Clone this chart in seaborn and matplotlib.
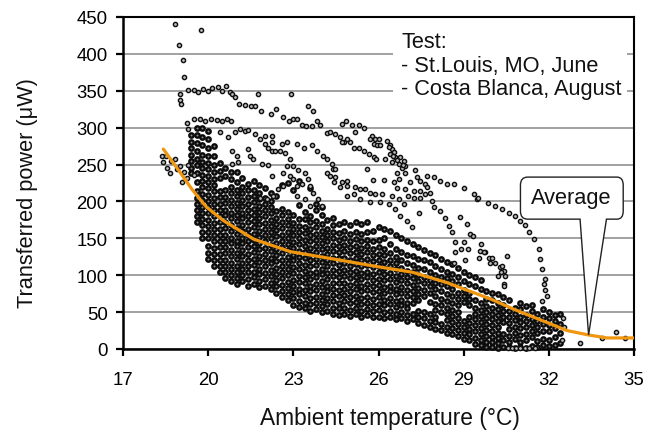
import matplotlib
matplotlib.use("Agg")
import matplotlib.pyplot as plt
from matplotlib.patches import PathPatch
from matplotlib.path import Path
import seaborn as sns
import pandas as pd

# valores, por coluna de temperatura
coluna_x = [19.4, 19.6, 19.8, 20.0, 20.2, 20.4, 20.6, 20.8, 21.0, 21.2, 21.4, 21.6, 21.8, 22.0, 22.2, 22.4, 22.6, 22.8,
            23.0, 23.2, 23.4, 23.6, 23.8, 24.0, 24.2, 24.4, 24.6, 24.8, 25.0, 25.2, 25.4, 25.6, 25.8, 26.0, 26.2,
            26.4, 26.6, 26.8, 27.0, 27.2, 27.4, 27.6, 27.8, 28.0, 28.2, 28.4, 28.6, 28.8, 29.0, 29.2, 29.4, 29.6,
            29.8, 30.0, 30.2, 30.4, 30.6, 30.8, 31.0, 31.2, 31.4, 31.6, 31.8, 32.0, 32.2, 32.4]
coluna_y = [
    [238, 246, 255, 263, 272, 281, 290],
    [172, 180, 188, 196, 205, 214, 226, 238, 249, 258, 268, 279, 290, 300],
    [150, 159, 168, 176, 185, 193, 202, 210, 219, 228, 236, 245, 254, 263, 276, 288, 300],
    [122, 130, 140, 150, 158, 167, 175, 184, 192, 201, 209, 218, 226, 235, 244, 252, 262, 272, 284, 296],
    [112, 120, 129, 137, 146, 154, 163, 171, 180, 188, 197, 205, 214, 222, 231, 240, 250, 262, 275],
    [104, 112, 121, 129, 138, 146, 155, 163, 172, 180, 189, 197, 206, 214, 232, 241, 252],
    [96, 104, 113, 121, 130, 138, 147, 155, 164, 172, 181, 189, 198, 206, 215, 234, 246],
    [92, 100, 109, 117, 126, 134, 143, 151, 160, 168, 177, 185, 194, 202, 211, 220, 230, 240],
    [88, 96, 105, 113, 122, 130, 139, 147, 156, 164, 173, 181, 190, 198, 207, 216, 226, 240],
    [92, 100, 109, 117, 126, 134, 143, 151, 160, 168, 177, 185, 194, 202, 211, 220, 232],
    [86, 95, 104, 112, 121, 129, 138, 146, 155, 163, 172, 180, 189, 197, 206, 215, 224],
    [88, 97, 105, 114, 122, 131, 139, 148, 156, 165, 173, 182, 190, 199, 207, 216, 228],
    [84, 92, 101, 109, 118, 126, 135, 143, 152, 160, 169, 177, 186, 194, 203, 212, 222],
    [86, 95, 103, 112, 120, 129, 137, 146, 154, 163, 171, 180, 188, 197, 205, 218],
    [82, 90, 99, 107, 116, 124, 133, 141, 150, 158, 167, 175, 184, 192, 201, 212],
    [76, 85, 93, 102, 110, 119, 127, 136, 144, 153, 161, 170, 178, 187, 208],
    [70, 79, 87, 96, 104, 113, 121, 130, 138, 147, 155, 164, 172, 181, 190, 222],
    [66, 74, 83, 91, 100, 108, 117, 125, 134, 142, 151, 159, 168, 176, 186, 225],
    [60, 69, 77, 86, 94, 103, 111, 120, 128, 137, 145, 154, 162, 171, 182, 215],
    [57, 65, 74, 82, 91, 99, 108, 116, 125, 133, 142, 150, 159, 167, 176, 195, 228],
    [55, 63, 72, 80, 89, 97, 106, 114, 123, 131, 140, 148, 157, 166, 176, 186],
    [52, 61, 69, 78, 86, 95, 103, 112, 120, 129, 137, 146, 154, 163, 172, 180, 218],
    [54, 63, 71, 80, 88, 97, 105, 114, 122, 131, 139, 148, 156, 165, 174, 188, 196],
    [50, 58, 67, 75, 84, 92, 101, 109, 118, 126, 135, 143, 152, 160, 170, 182, 192],
    [52, 61, 69, 78, 86, 95, 103, 112, 120, 129, 137, 146, 154, 163, 175],
    [48, 56, 65, 73, 82, 90, 99, 107, 116, 124, 133, 141, 150, 158, 168, 178],
    [46, 55, 63, 72, 80, 89, 97, 106, 114, 123, 131, 140, 148, 157, 170],
    [48, 56, 65, 73, 82, 90, 99, 107, 116, 124, 133, 141, 150, 160, 172],
    [45, 53, 62, 70, 79, 87, 96, 104, 113, 121, 130, 138, 147, 156, 168],
    [47, 55, 64, 72, 81, 89, 98, 106, 115, 123, 132, 140, 149, 158, 172],
    [44, 52, 61, 69, 78, 86, 95, 103, 112, 120, 129, 137, 146, 156, 170],
    [46, 54, 63, 71, 80, 88, 97, 105, 114, 122, 131, 139, 148, 158, 172],
    [43, 51, 60, 68, 77, 85, 94, 102, 111, 119, 128, 136, 146, 160],
    [44, 53, 61, 70, 78, 87, 95, 104, 112, 121, 129, 138, 148, 165],
    [42, 50, 59, 67, 76, 84, 93, 101, 110, 118, 127, 136, 150, 162],
    [44, 52, 61, 69, 78, 86, 95, 103, 112, 120, 130, 142, 160],
    [40, 48, 57, 65, 74, 82, 91, 99, 108, 116, 125, 136, 155],
    [42, 50, 59, 67, 76, 84, 93, 101, 110, 120, 132, 150],
    [38, 46, 55, 63, 72, 80, 89, 97, 106, 116, 128, 146],
    [40, 48, 62, 70, 79, 87, 96, 104, 114, 126, 142],
    [35, 43, 52, 66, 75, 83, 92, 100, 110, 122, 138],
    [33, 42, 50, 72, 80, 89, 97, 108, 120, 134],
    [30, 38, 47, 64, 76, 85, 93, 104, 118, 130],
    [27, 36, 44, 53, 61, 72, 81, 90, 100, 112, 128],
    [26, 34, 50, 59, 68, 78, 88, 98, 108, 122],
    [22, 30, 39, 47, 56, 65, 75, 85, 96, 104, 118],
    [20, 28, 36, 45, 53, 62, 72, 82, 92, 102, 115],
    [18, 26, 34, 42, 50, 59, 68, 76, 88, 98, 110],
    [14, 22, 30, 38, 64, 72, 80, 92, 104],
    [12, 20, 27, 35, 44, 60, 68, 76, 88, 100],
    [7, 15, 24, 32, 40, 48, 56, 66, 86, 98],
    [5, 12, 20, 28, 36, 45, 53, 62, 82, 94],
    [3, 10, 18, 26, 34, 42, 50, 58, 68, 78],
    [3, 9, 16, 24, 32, 40, 48, 56, 66, 76],
    [2, 8, 15, 22, 30, 38, 46, 54, 62, 74],
    [3, 12, 20, 36, 44, 52, 60, 70],
    [3, 10, 18, 27, 35, 43, 52, 66],
    [2, 14, 22, 30, 39, 47, 56],
    [3, 10, 19, 28, 36, 44, 54, 63],
    [2, 12, 20, 30, 38, 46, 58],
    [4, 16, 24, 33, 41, 52, 60],
    [3, 11, 22, 30, 38, 48],
    [5, 14, 25, 34, 44, 54],
    [4, 12, 24, 32, 42, 50],
    [6, 16, 28, 38, 46],
    [8, 22, 34, 48],
]

# pontos isolados, arcos e faixas superiores
solto_x = [18.36, 18.42, 18.5, 18.55, 18.66, 18.7, 18.83, 18.9, 19.0, 19.07, 19.15, 19.25, 19.3, 19.5,
           18.83, 19.73, 18.97, 19.13, 19.16, 19.0, 19.02, 19.05, 19.29, 19.5, 19.65, 19.83, 20.0, 20.13, 20.36, 20.5,
           20.62, 20.77, 20.85, 20.95, 21.07, 21.3, 21.5, 21.65, 21.85, 21.77, 22.92, 22.2, 22.39, 22.63, 22.83, 23.0,
           23.12, 23.52, 23.71, 23.3, 23.45, 23.65, 23.94, 23.83, 24.18,
           19.25, 19.3, 19.5, 19.7, 19.9, 20.1, 20.3, 20.5, 20.65, 20.8,
           20.42, 20.71, 20.95, 21.12, 21.3, 21.42, 21.65, 21.83, 22.0, 22.12, 22.24, 22.36, 22.53, 22.71, 22.89, 23.0,
           23.18, 23.41, 23.53, 23.59, 23.71, 23.88, 24.0, 21.47, 21.59, 21.42, 21.89, 22.12, 22.24, 22.65, 22.77, 22.89,
           23.0, 22.65, 22.47, 22.3, 22.06, 21.83, 23.12, 23.3, 23.12, 23.41, 23.59, 24.18, 24.3, 24.41, 24.18, 24.06,
           23.83, 23.65, 23.36, 23.12, 22.77, 22.59, 22.24, 22.0, 22.24, 20.83, 21.03, 20.83, 21.06,
           25.77, 25.89, 26.0, 25.71, 25.83, 25.95, 26.06, 24.77, 25.0, 25.12, 25.3, 25.48, 25.65, 25.83, 25.92,
           26.3, 26.39, 26.47, 26.53, 26.42, 26.59, 26.77, 26.89, 26.94, 26.83, 26.94, 26.24, 26.47, 26.71, 26.36, 26.5, 26.65, 26.85,
           27.3, 27.36, 27.47, 27.65, 27.71, 27.94, 28.18, 28.41, 28.65, 29.0, 29.35, 29.47, 27.71, 27.83, 27.88, 27.94,
           28.18, 28.35, 28.47, 25.59, 25.79, 26.2, 26.53, 26.73, 26.65, 27.12, 26.65, 26.94, 27.24, 27.47, 27.65, 27.03,
           27.24, 27.47, 26.47, 26.73, 26.91, 27.41, 28.88, 29.12, 24.36, 24.48, 24.48, 24.42, 24.71, 24.89, 24.89, 24.65,
           24.89, 25.18, 25.36, 25.53, 25.71, 25.89, 25.12, 25.36, 25.71, 26.06, 26.36, 26.59, 26.77, 27.0, 27.18, 26.12,
           24.3, 24.48, 24.65, 24.71, 24.89, 24.71, 24.86, 25.06, 25.3, 25.48, 25.18,
           28.59, 28.68, 28.7, 28.65, 29.0, 28.9, 29.14, 29.06, 29.6, 29.56, 29.76, 29.55, 29.88, 29.94, 30.11, 30.29,
           30.41, 30.2, 30.41, 29.23, 29.33, 30.53, 29.7, 30.0, 30.35, 30.47, 30.41, 30.3,
           29.5, 29.85, 30.1, 30.35, 30.58, 30.8, 30.99, 31.15, 31.29, 31.47, 31.64, 31.7, 31.76, 31.88, 31.88, 31.94, 31.76, 31.82,
           33.09, 33.87, 34.36, 34.67, 32.5, 32.55, 32.45, 30.55, 30.7, 30.85, 31.0, 31.15, 31.3, 31.5]
solto_y = [262, 253, 262, 246, 239, 255, 257, 244, 248, 226, 240, 232, 250, 236,
           440, 432, 412, 392, 369, 345, 338, 332, 351, 351, 348, 352, 350, 354, 355, 350,
           356, 348, 345, 341, 332, 331, 330, 329, 322, 345, 345, 319, 325, 315, 309, 312,
           312, 329, 322, 303, 302, 302, 303, 309, 293,
           307, 298, 312, 312, 309, 312, 311, 309, 312, 309,
           294, 287, 294, 298, 296, 297, 291, 285, 278, 273, 269, 269, 269, 266, 257, 248,
           242, 239, 230, 221, 212, 203, 194, 262, 258, 271, 251, 249, 235, 239, 248, 235,
           230, 221, 217, 208, 203, 205, 221, 224, 208, 203, 194, 239, 235, 244, 257, 262,
           269, 276, 273, 278, 280, 278, 280, 289, 289, 269, 262, 251, 253,
           289, 285, 285, 285, 278, 276, 276, 280, 280, 273, 273, 269, 264, 260, 258,
           282, 276, 271, 267, 264, 260, 260, 255, 248, 246, 239, 257, 253, 251, 274, 262, 256, 250,
           242, 233, 228, 224, 235, 233, 228, 224, 224, 218, 210, 203, 219, 212, 201, 192,
           187, 178, 167, 244, 229, 229, 227, 230, 239, 227, 218, 217, 214, 214, 210, 208,
           205, 204, 208, 203, 196, 185, 179, 169, 251, 244, 233, 226, 226, 228, 221, 219,
           207, 219, 217, 217, 212, 210, 210, 203, 199, 199, 196, 190, 180, 174, 165, 210,
           294, 291, 287, 280, 285, 305, 309, 303, 303, 299, 294,
           158, 145, 131, 117, 145, 136, 136, 120, 142, 133, 131, 123, 124, 117, 117, 111,
           106, 99, 88, 156, 153, 126, 131, 124, 113, 99, 86, 105,
           205, 198, 194, 190, 185, 180, 174, 168, 158, 149, 135, 122, 108, 95, 80, 72, 65, 88,
           8, 15, 23, 15, 42, 30, 12, 1, 2, 1, 1, 2, 1, 2]

# curva media
media_x = [18.42, 19.0, 19.42, 19.71, 19.95, 20.54, 21.6, 22.89, 24.41, 26.06, 27.2, 28.41, 29.17, 30.0, 30.76, 31.93, 32.64, 33.4, 34.05, 35.0]
media_y = [271, 240, 217, 203, 192, 174, 149, 132, 122, 111, 104, 90, 79, 67, 54, 36, 25, 19, 15, 15]

ticks_x = [17, 20, 23, 26, 29, 32, 35]
ticks_y = [0, 50, 100, 150, 200, 250, 300, 350, 400, 450]

sns.set_theme(style="white")
plt.rcParams['font.family'] = ['Liberation Sans', 'DejaVu Sans']
plt.rcParams['text.color'] = 'black'
plt.rcParams['xtick.color'] = 'black'
plt.rcParams['ytick.color'] = 'black'

df_nuvem = pd.DataFrame({'temp': [x for x, ys in zip(coluna_x, coluna_y) for _ in ys],
                         'power': [y for ys in coluna_y for y in ys]})
df_solto = pd.DataFrame({'temp': solto_x, 'power': solto_y})
df_media = pd.DataFrame({'temp': media_x, 'power': media_y})

fig = plt.figure(figsize=(6.56, 4.31), dpi=100)
ax = fig.add_axes([123 / 656, 1 - 350 / 431, 511 / 656, 332 / 431])

ax.grid(axis='y', color='#9a9a9a', lw=1.3, zorder=0)
ax.set_axisbelow(True)

sns.scatterplot(data=df_nuvem, x='temp', y='power', ax=ax, s=10, color='#8c8c8c', edgecolor='#0c0c0c',
                linewidth=1.7, legend=False, clip_on=False, zorder=3)
sns.scatterplot(data=df_solto, x='temp', y='power', ax=ax, s=9, color='#c0c0c0', edgecolor='#101010',
                linewidth=1.05, legend=False, clip_on=False, zorder=3)
sns.lineplot(data=df_media, x='temp', y='power', ax=ax, color='#f0960f', lw=2.3, estimator=None,
             sort=False, zorder=4)

ax.set_xlim(17, 35)
ax.set_ylim(0, 450)
ax.set_xticks(ticks_x)
ax.set_yticks(ticks_y)
ax.tick_params(axis='both', direction='out', length=5, width=1.6, labelsize=13.4,
               bottom=True, left=True, color='black')
ax.tick_params(axis='x', pad=11)
ax.tick_params(axis='y', pad=6)
for lado in ['left', 'bottom']:
    ax.spines[lado].set_linewidth(1.8)
    ax.spines[lado].set_color('black')
for lado in ['top', 'right']:
    ax.spines[lado].set_linewidth(1.5)
    ax.spines[lado].set_color('black')

ax.set_xlabel('Ambient temperature (°C)', fontsize=16.4, color='#111111', va='center')
ax.set_ylabel('Transferred power (μW)', fontsize=15.7, color='#111111', va='center')
ax.xaxis.set_label_coords(0.5225, -0.206)
ax.yaxis.set_label_coords(-0.186, 0.473)

# caixa branca atras do texto do teste
ax.fill_between([26.5, 34.77], 325, 449, color='white', lw=0, zorder=2)
ax.text(26.8, 431, 'Test:\n- St.Louis, MO, June\n- Costa Blanca, August', fontsize=15.7, va='top', ha='left',
        linespacing=1.17, color='#111111', zorder=5)

# balao "Average"
caixa = [(31.25, 233), (34.4, 233), (34.62, 233), (34.62, 222), (34.62, 187), (34.62, 176), (34.4, 176), (34.03, 176),
         (33.4, 19), (33.1, 176), (31.25, 176), (31.0, 176), (31.0, 187), (31.0, 222), (31.0, 233), (31.25, 233)]
codigos = [Path.MOVETO, Path.LINETO, Path.CURVE3, Path.CURVE3, Path.LINETO, Path.CURVE3, Path.CURVE3, Path.LINETO,
           Path.LINETO, Path.LINETO, Path.LINETO, Path.CURVE3, Path.CURVE3, Path.LINETO, Path.CURVE3, Path.CURVE3]
ax.add_patch(PathPatch(Path(caixa, codigos), facecolor='white', edgecolor='#222222', lw=1.0, zorder=5))
ax.text(32.8, 206, 'Average', fontsize=15.7, ha='center', va='center', color='#111111', zorder=6)

fig.savefig('out.png', dpi=100)
plt.close(fig)
